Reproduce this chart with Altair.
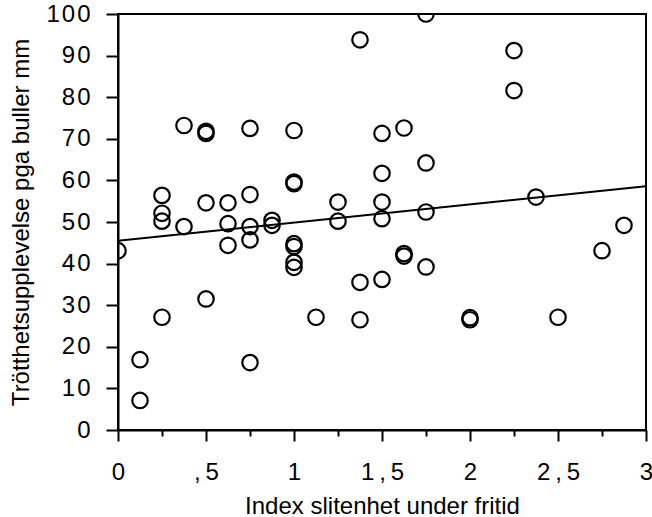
import altair as alt
import pandas as pd

# Index slitenhet under fritid (x) and Trötthetsupplevelse pga buller mm (y)
x_vals = [0,
          0.125, 0.125,
          0.25, 0.25, 0.25, 0.25,
          0.375, 0.375,
          0.5, 0.5, 0.5, 0.5,
          0.625, 0.625, 0.625,
          0.75, 0.75, 0.75, 0.75, 0.75,
          0.875, 0.875,
          1, 1, 1, 1, 1, 1, 1,
          1.125,
          1.25, 1.25,
          1.375, 1.375, 1.375,
          1.5, 1.5, 1.5, 1.5, 1.5,
          1.625, 1.625, 1.625,
          1.75, 1.75, 1.75, 1.75,
          2, 2,
          2.25, 2.25,
          2.375,
          2.5,
          2.75,
          2.875]
y_vals = [43.1,
          16.9, 7.1,
          56.4, 52.1, 50.2, 27.1,
          48.9, 73.2,
          54.6, 31.5, 71.8, 71.3,
          54.6, 49.6, 44.4,
          72.5, 56.6, 48.9, 45.7, 16.2,
          50.4, 49.2,
          72.0, 59.6, 59.2, 44.8, 44.1, 40.3, 39.1,
          27.1,
          54.8, 50.2,
          93.8, 35.5, 26.5,
          71.3, 61.7, 54.8, 50.8, 36.2,
          72.6, 42.4, 41.8,
          100, 64.2, 52.4, 39.2,
          27.0, 26.5,
          91.2, 81.6,
          56.0,
          27.1,
          43.1,
          49.2]

x_ticks = [0, 0.25, 0.5, 0.75, 1, 1.25, 1.5, 1.75, 2, 2.25, 2.5, 2.75, 3]
y_ticks = [0, 10, 20, 30, 40, 50, 60, 70, 80, 90, 100]

df = pd.DataFrame({"x": x_vals, "y": y_vals})

FONT = "Liberation Sans"
TS = "\u2009"  # thin space
HS = "\u200a"  # hair space

x_scale = alt.Scale(domain=[0, 3], nice=False, zero=False)
y_scale = alt.Scale(domain=[0, 100], nice=False)

x_label_expr = (
    "datum.value % 0.5 != 0 ? '' : "
    "(datum.value % 1 == 0 ? format(datum.value, 'd') : "
    f"(floor(datum.value) == 0 ? ',{TS}5' : format(floor(datum.value), 'd') + '{TS},{TS}5'))"
)
y_label_expr = (
    f"datum.value == 100 ? '1{HS}0{HS}0' : (datum.value == 0 ? '0' : "
    f"format(datum.value / 10, 'd') + '{HS}0')"
)

x_axis = alt.Axis(
    orient="bottom", values=x_ticks,
    tickSize={"condition": {"test": "datum.value % 0.5 == 0", "value": 11}, "value": 6},
    tickWidth=2, domainWidth=2, domainColor="black", tickColor="black",
    labelExpr=x_label_expr, labelFont=FONT, labelFontSize=24,
    labelColor="black", labelPadding=19, labelFlush=False, labelOverlap=False,
    title="Index slitenhet under fritid", titleFont=FONT,
    titleFontSize=24, titleFontWeight="normal", titleColor="black",
    titlePadding=10, grid=False,
)
y_axis = alt.Axis(
    values=y_ticks, tickSize=12, tickWidth=2, domainWidth=2,
    domainColor="black", tickColor="black",
    labelExpr=y_label_expr, labelFont=FONT, labelFontSize=24,
    labelColor="black", labelPadding=16, labelFlush=False, labelOverlap=False,
    title="Trötthetsupplevelse pga buller mm", titleFont=FONT,
    titleFontSize=24, titleFontWeight="normal", titleColor="black",
    titlePadding=12, grid=False,
)

points = alt.Chart(df).mark_point(
    shape="circle", filled=False, color="black", size=240, strokeWidth=2.2, opacity=1, clip=True
).encode(
    x=alt.X("x:Q", scale=x_scale, axis=x_axis),
    y=alt.Y("y:Q", scale=y_scale, axis=y_axis),
)

line = alt.Chart(df).transform_regression(
    "x", "y", extent=[0, 3]
).mark_line(color="black", strokeWidth=2, clip=True).encode(
    x=alt.X("x:Q", scale=x_scale, axis=x_axis),
    y=alt.Y("y:Q", scale=y_scale, axis=y_axis),
)

chart = alt.layer(line, points).properties(
    width=528,
    height=416,
    autosize=alt.AutoSizeParams(type="none"),
    padding={"left": 118, "top": 14, "right": 6, "bottom": 87},
    background="white",
).configure_view(stroke="black", strokeWidth=2)

chart.save("out.html", embed_options={"renderer": "svg", "actions": False})
